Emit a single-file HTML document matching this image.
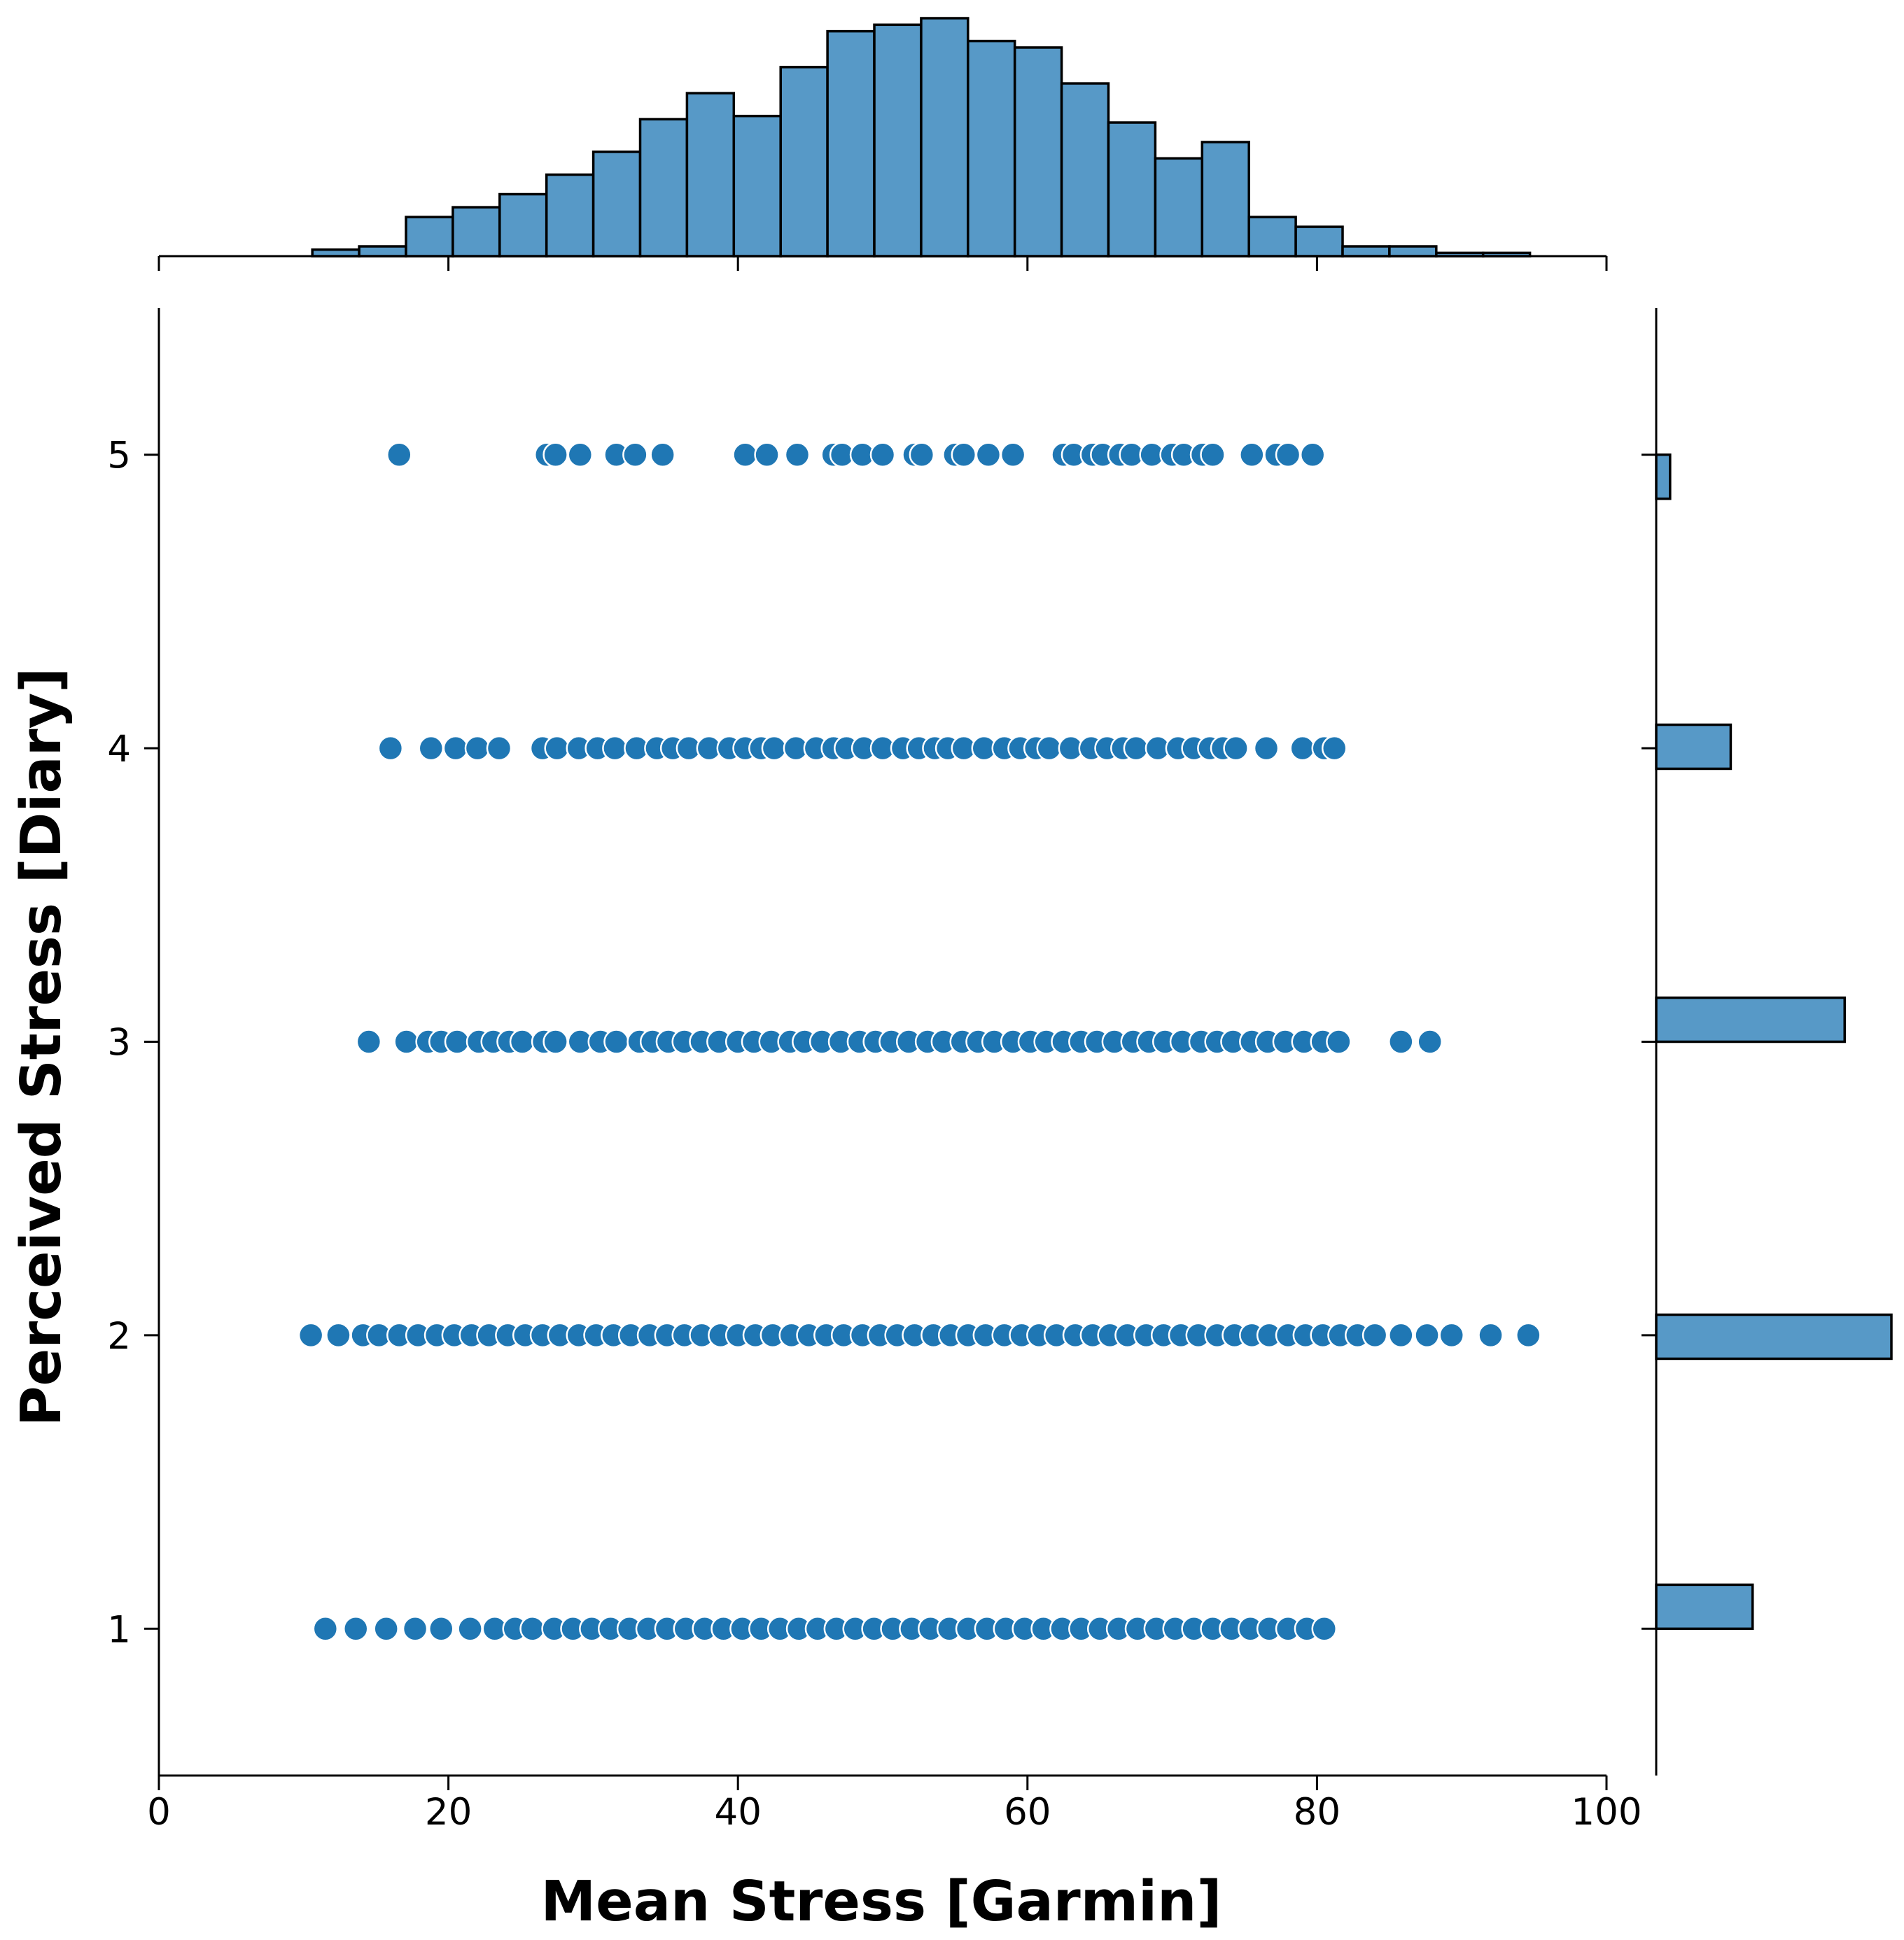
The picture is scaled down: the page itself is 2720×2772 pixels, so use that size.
<!DOCTYPE html>
<html><head><meta charset="utf-8"><style>
html,body{margin:0;padding:0;background:#fff;}
svg{display:block;font-family:"DejaVu Sans","Liberation Sans",sans-serif;}
</style></head><body>
<svg id="chart" width="2720" height="2772" viewBox="0 0 2720 2772" xmlns="http://www.w3.org/2000/svg">
<g id="top-hist"></g>
<g id="right-hist"></g>
<g id="scatter"></g>
<g id="axes"></g>
<text x="1259" y="2744" font-size="79" font-weight="bold" text-anchor="middle">Mean Stress [Garmin]</text>
<text x="0" y="0" font-size="79" font-weight="bold" text-anchor="middle" transform="translate(86,1496) rotate(-90)">Perceived Stress [Diary]</text>
</svg>
<script>
// ---- data ----
const xBinStart = 10.6;
const xBinWidth = 3.235;
const xHistCounts = [2,3,12,15,19,25,32,42,50,43,58,69,71,73,66,64,53,41,30,35,12,9,3,3,1,1];
const yLevels = [1,2,3,4,5];
const yBinLo = [1,1.92,3,3.93,4.85];
const yBinWidth = 0.15;
const yHistCounts = [132,322,258,102,19];
const xTicks = [0,20,40,60,80,100];
const yTicks = [1,2,3,4,5];
const level5 = [16.6,26.8,27.4,29.1,31.6,32.9,34.8,40.5,42.0,44.1,46.6,47.2,48.6,50.0,52.2,52.7,55.0,55.6,57.3,59.0,62.5,63.2,64.5,65.2,66.4,67.2,68.6,70.0,70.8,72.1,72.8,75.5,77.2,78.0,79.7];
const level4 = [16,18.8,20.5,22,23.5,26.5,27.5,29,30.3,31.5,33,34.4,35.5,36.6,38,39.4,40.5,41.6,42.5,44,45.4,46.6,47.5,48.7,50,51.4,52.5,53.6,54.5,55.6,57,58.4,59.5,60.6,61.5,63,64.4,65.5,66.6,67.5,69,70.4,71.5,72.6,73.5,74.4,76.5,79,80.5,81.2];
const level3 = [14.5,17.1,18.6,19.5,20.6,22.1,23.1,24.2,25.1,26.6,27.4,29.1,30.5,31.6,33.2,34.1,35.2,36.3,37.5,38.7,40,41.1,42.3,43.6,44.6,45.8,47.1,48.4,49.5,50.6,51.8,53.1,54.2,55.5,56.6,57.7,59,60.2,61.3,62.5,63.7,64.8,66,67.3,68.4,69.5,70.7,72,73.1,74.2,75.5,76.6,77.8,79.1,80.4,81.5,85.8,87.8];
const level2 = [10.5,12.4,14.1,15.2,16.6,17.9,19.2,20.4,21.6,22.8,24.1,25.3,26.5,27.7,29,30.2,31.4,32.6,33.9,35.1,36.3,37.5,38.8,40,41.2,42.4,43.7,44.9,46.1,47.3,48.6,49.8,51,52.2,53.5,54.7,55.9,57.1,58.4,59.6,60.8,62,63.3,64.5,65.7,66.9,68.2,69.4,70.6,71.8,73.1,74.3,75.5,76.7,78,79.2,80.4,81.6,82.8,84,85.8,87.6,89.3,92,94.6];
const level1 = [11.5,13.6,15.7,17.7,19.5,21.5,23.2,24.6,25.8,27.3,28.6,29.9,31.2,32.5,33.8,35.1,36.4,37.7,39,40.3,41.6,42.9,44.2,45.5,46.8,48.1,49.4,50.7,52,53.3,54.6,55.9,57.2,58.5,59.8,61.1,62.4,63.7,65,66.3,67.6,68.9,70.2,71.5,72.8,74.1,75.4,76.7,78,79.3,80.5];
const scatterLevels = [level1,level2,level3,level4,level5];

// ---- scales ----
const NS = "http://www.w3.org/2000/svg";
const X0 = 227, X1 = 2295, Y_BOT = 2537, Y_TOP = 440;
const sx = v => X0 + (v - 0) * (X1 - X0) / 100;
const sy = v => Y_BOT - (v - 0.5) * (Y_BOT - Y_TOP) / 5;
const TOP_BASE = 366, topMaxPx = 340, topMaxCount = 73;
const sTop = c => c * topMaxPx / topMaxCount;
const RX = 2366, rMaxPx = 336, rMaxCount = 322;
const sRight = c => c * rMaxPx / rMaxCount;
function mk(tag, attrs, parent){const e=document.createElementNS(NS,tag);for(const k in attrs)e.setAttribute(k,attrs[k]);parent.appendChild(e);return e;}

const gT = document.getElementById('top-hist');
xHistCounts.forEach((c,i)=>{
  const x = sx(xBinStart + i*xBinWidth), w = sx(xBinStart+(i+1)*xBinWidth)-x, h = sTop(c);
  const r = mk('rect',{x:x,y:TOP_BASE-h,width:w,height:h,fill:'#5799c7',stroke:'#000','stroke-width':3.5},gT);
  
  
});
const gR = document.getElementById('right-hist');
yHistCounts.forEach((c,i)=>{
  const y1 = sy(yBinLo[i]+yBinWidth), y0 = sy(yBinLo[i]);
  const r = mk('rect',{x:RX,y:y1,width:sRight(c),height:y0-y1,fill:'#5799c7',stroke:'#000','stroke-width':3.5},gR);
  
  
});
const gS = document.getElementById('scatter');
scatterLevels.forEach((arr,li)=>{
  arr.forEach(v=>{
    const c = mk('circle',{cx:sx(v),cy:sy(yLevels[li]),r:17,fill:'#1f77b4',stroke:'#fff','stroke-width':2.5},gS);
    
    
  });
});
const gA = document.getElementById('axes');
const L = (a)=>mk('line',Object.assign({stroke:'#000','stroke-width':3},a),gA);
L({x1:X0,y1:Y_TOP,x2:X0,y2:Y_BOT});
L({x1:X0,y1:Y_BOT,x2:X1,y2:Y_BOT});
L({x1:X0,y1:TOP_BASE,x2:X1,y2:TOP_BASE});
L({x1:RX,y1:Y_TOP,x2:RX,y2:Y_BOT});
xTicks.forEach(t=>{
  L({x1:sx(t),y1:Y_BOT,x2:sx(t),y2:Y_BOT+21});
  L({x1:sx(t),y1:TOP_BASE,x2:sx(t),y2:TOP_BASE+21});
  const tx = mk('text',{x:sx(t),y:Y_BOT+70,'font-size':53,'text-anchor':'middle'},gA);
  tx.textContent = t;
  
  
});
yTicks.forEach(t=>{
  L({x1:X0-21,y1:sy(t),x2:X0,y2:sy(t)});
  L({x1:RX-21,y1:sy(t),x2:RX,y2:sy(t)});
  const tx = mk('text',{x:X0-40,y:sy(t)+19,'font-size':53,'text-anchor':'end'},gA);
  tx.textContent = t;
  
  
});
</script>
</body></html>
